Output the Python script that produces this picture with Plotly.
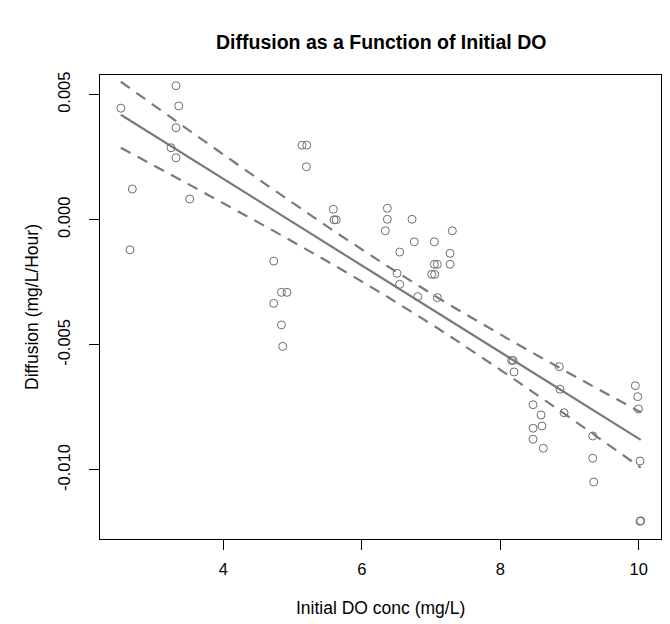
import numpy as np
import plotly.graph_objects as go

initial_do = [2.52, 3.317, 3.356, 3.317, 3.245, 3.317, 2.686, 3.515, 2.652,
              4.728, 4.84, 4.92, 4.728, 4.84, 4.858,
              5.137, 5.205, 5.20, 5.589, 5.60, 5.63,
              6.369, 6.369, 6.34, 6.726, 7.308, 6.759, 7.048, 6.548, 7.275,
              7.048, 7.091, 7.275, 7.01, 7.053, 6.509, 6.548, 6.808, 7.091,
              8.165, 8.185, 8.199, 8.853, 8.863, 8.921, 8.474, 8.589, 8.474,
              8.603, 8.474, 8.622, 9.336, 9.336, 9.35,
              9.951, 9.986, 9.995, 10.019, 10.029, 10.02]
diffusion = [0.00446, 0.00536, 0.00455, 0.00368, 0.00288, 0.00248, 0.00123, 0.00083, -0.0012,
             -0.00165, -0.0029, -0.0029, -0.00334, -0.0042, -0.00506,
             0.00298, 0.00298, 0.00212, 0.00042, 0.0000, 0.0000,
             0.00046, 0.00002, -0.00044, 0.00002, -0.00044, -0.00088, -0.00088, -0.00129, -0.00134,
             -0.00178, -0.00178, -0.00178, -0.00218, -0.00218, -0.00214, -0.00258, -0.00307, -0.00311,
             -0.00562, -0.00562, -0.00608, -0.00587, -0.00677, -0.00771, -0.00739, -0.0078, -0.00833,
             -0.00824, -0.00877, -0.00913, -0.00864, -0.00953, -0.01048,
             -0.00663, -0.00707, -0.00756, -0.00964, -0.01203, -0.01205]

x_ticks = [4, 6, 8, 10]
y_ticks = [-0.010, -0.005, 0.000, 0.005]
y_tick_labels = ["-0.010", "-0.005", "0.000", "0.005"]

# Linear model with 95% confidence band (as lm + predict in the original)
x = np.array(initial_do)
y = np.array(diffusion)
n = len(x)
b1, b0 = np.polyfit(x, y, 1)
resid = y - (b0 + b1 * x)
s = np.sqrt(np.sum(resid ** 2) / (n - 2))
sxx = np.sum((x - x.mean()) ** 2)
t_crit = 1.9996  # t(0.975, df ~ 58)
xs = np.sort(x)
fit = b0 + b1 * xs
hw = t_crit * s * np.sqrt(1 / n + (xs - x.mean()) ** 2 / sxx)

line_col = "#7a7a7a"
fig = go.Figure()
fig.add_trace(go.Scatter(x=xs, y=fit + hw, mode="lines",
                         line=dict(color=line_col, width=2.2, dash="11px,8px")))
fig.add_trace(go.Scatter(x=xs, y=fit - hw, mode="lines",
                         line=dict(color=line_col, width=2.2, dash="11px,8px")))
fig.add_trace(go.Scatter(x=xs, y=fit, mode="lines",
                         line=dict(color=line_col, width=2.2)))
fig.add_trace(go.Scatter(x=initial_do, y=diffusion, mode="markers",
                         marker=dict(symbol="circle-open", size=8,
                                     color="#6e6e6e", line=dict(width=1))))

font_family = "Liberation Sans, Arial, sans-serif"
# The page body adds an 8px offset, so the figure is 8px smaller than the window
W, H = 662, 616
fig.update_layout(
    width=W, height=H,
    margin=dict(l=92, r=9, t=67, b=85, autoexpand=False),
    paper_bgcolor="white", plot_bgcolor="white",
    showlegend=False,
    font=dict(family=font_family, size=16.5, color="#000000"),
)
fig.update_xaxes(range=[2.219, 10.322], tickvals=x_ticks, ticks="outside",
                 ticklen=10, tickcolor="#000", showgrid=False, zeroline=False,
                 showline=True, linecolor="#000", linewidth=1, mirror=True,
                 automargin=False, ticklabelstandoff=5,
                 tickfont=dict(size=16.5))
fig.update_yaxes(range=[-0.012758, 0.005787], tickvals=y_ticks,
                 ticktext=y_tick_labels, tickangle=-90, ticks="outside",
                 ticklen=10, tickcolor="#000", showgrid=False, zeroline=False,
                 showline=True, linecolor="#000", linewidth=1, mirror=True,
                 automargin=False, ticklabelstandoff=12,
                 tickfont=dict(size=16.5))

# Title and axis titles placed like the R base-graphics layout
fig.add_annotation(text="<b>Diffusion as a Function of Initial DO</b>",
                   xref="paper", yref="paper", x=0.5, y=1 + (75 - 42) / 464,
                   xanchor="center", yanchor="middle", showarrow=False,
                   font=dict(size=19.5, color="#000"))
fig.add_annotation(text="Initial DO conc (mg/L)",
                   xref="paper", yref="paper", x=0.5, y=-(608 - 539) / 464,
                   xanchor="center", yanchor="middle", showarrow=False,
                   font=dict(size=17.5, color="#000"))
fig.add_annotation(text="Diffusion (mg/L/Hour)", textangle=-90,
                   xref="paper", yref="paper", x=-(100 - 32) / 561, y=0.5,
                   xanchor="center", yanchor="middle", showarrow=False,
                   font=dict(size=17.5, color="#000"))

fig.write_html("out.html")
